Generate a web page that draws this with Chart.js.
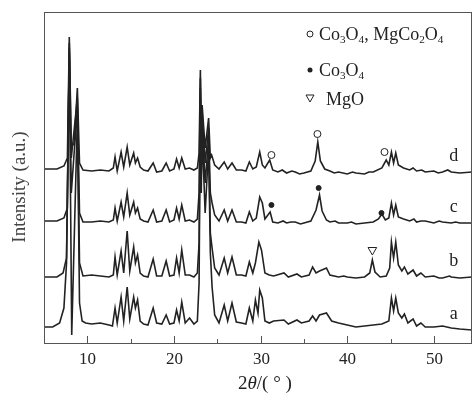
<!DOCTYPE html>
<html>
<head>
<meta charset="utf-8">
<script src="https://cdn.jsdelivr.net/npm/chart.js@4.4.0/dist/chart.umd.min.js"></script>
<style>
  body { margin: 0; background: #fff; }
  #wrap { width: 473px; height: 393px; position: relative; }
</style>
</head>
<body>
<div id="wrap"><canvas id="myChart"></canvas></div>
<script>
// [2theta, intensity] (intensity in arbitrary units, stacked)
const traceD = [[4.9,174],[6.5,174],[7.3,177],[7.7,185],[7.92,306],[8.15,196],[8.5,200],[8.85,255],[9.1,180],[9.5,173],[10.5,172],[11.5,173],[12.5,172],[13.0,175],[13.2,186],[13.45,172],[13.9,191],[14.2,176],[14.6,196],[14.9,178],[15.35,190],[15.55,180],[15.8,185],[16.1,176],[16.5,173],[17.0,172],[17.6,180],[18.0,171],[18.6,172],[19.1,180],[19.5,172],[20.0,174],[20.3,184],[20.6,175],[20.9,185],[21.3,174],[21.8,175],[22.3,173],[22.7,175],[22.9,190],[23.05,273],[23.15,200],[23.25,238],[23.6,195],[24.0,225],[24.2,185],[24.35,188],[24.7,178],[25.2,174],[25.8,181],[26.2,174],[26.7,180],[27.2,173],[27.8,173],[28.3,172],[28.7,181],[29.1,174],[29.5,176],[29.9,191],[30.2,178],[30.5,175],[31.05,183],[31.4,173],[32,171],[32.5,173],[33,170],[33.6,172],[34,171],[34.5,169],[35,170],[35.8,172],[36.3,182],[36.6,201],[36.9,182],[37.4,174],[38,172],[38.5,170],[39,171],[40,169],[40.6,171],[41,170],[42,169],[42.5,171],[43,171],[44,175],[44.5,183],[44.8,178],[45.1,191],[45.35,180],[45.6,190],[45.9,178],[46.5,175],[47.2,173],[47.6,175],[48,172],[48.6,173],[49,171],[50,172],[50.5,170],[51,171],[51.6,173],[52,171],[53,170],[54.4,171]];

const traceC = [[4.9,122],[6.5,122],[7.3,125],[7.7,135],[7.92,300],[8.15,185],[8.85,245],[9.1,130],[9.5,121],[10.5,121],[11.5,122],[12.5,121],[13.0,123],[13.2,135],[13.45,122],[13.9,141],[14.2,126],[14.6,150],[14.9,128],[15.35,141],[15.55,130],[15.8,135],[16.1,124],[16.5,122],[17.0,121],[17.6,133],[18.0,121],[18.6,122],[19.1,133],[19.5,121],[20.0,123],[20.3,135],[20.6,124],[20.9,138],[21.3,122],[21.8,123],[22.3,121],[22.7,124],[22.9,150],[23.05,265],[23.15,190],[23.25,230],[23.6,180],[24.0,215],[24.2,150],[24.4,140],[24.7,128],[25.2,122],[25.8,133],[26.2,122],[26.7,133],[27.2,121],[27.8,121],[28.3,120],[28.7,131],[29.1,122],[29.5,125],[29.9,146],[30.2,140],[30.5,124],[31.1,131],[31.4,121],[32,120],[32.6,122],[33,120],[33.5,121],[34,121],[34.6,119],[35,120],[35.8,122],[36.4,133],[36.8,148],[37.1,132],[37.6,123],[38,121],[38.6,122],[39,120],[40,120],[40.5,121],[41,119],[42,120],[43,121],[43.6,124],[44.0,129],[44.4,123],[44.8,125],[45.1,140],[45.35,128],[45.6,138],[45.9,126],[46.5,124],[47.2,122],[47.7,124],[48,121],[48.5,122],[49,122],[50,120],[50.6,122],[51,121],[52,120],[52.5,121],[53,120],[54.4,120]];

const traceB = [[4.9,66],[6.5,66],[7.2,70],[7.6,85],[7.92,295],[8.15,150],[8.85,235],[9.1,80],[9.5,67],[10.5,68],[11.5,67],[12.5,66],[13.0,68],[13.2,86],[13.45,68],[13.9,92],[14.2,70],[14.6,112],[14.9,72],[15.35,96],[15.55,80],[15.8,88],[16.1,70],[16.5,67],[17.0,66],[17.6,84],[18.0,67],[18.6,67],[19.1,82],[19.5,67],[20.0,68],[20.3,85],[20.6,70],[20.9,93],[21.3,68],[21.8,68],[22.3,66],[22.7,70],[22.9,100],[23.05,255],[23.15,170],[23.25,220],[23.6,160],[24.0,205],[24.2,110],[24.4,95],[24.7,75],[25.2,68],[25.8,85],[26.2,70],[26.7,86],[27.2,68],[27.8,68],[28.3,67],[28.7,81],[29.1,70],[29.4,80],[29.8,101],[30.1,93],[30.5,70],[31.0,68],[31.5,67],[32.7,70],[33.2,66],[34.2,69],[34.7,66],[35.6,68],[36.0,76],[36.4,70],[36.8,72],[37.6,75],[38,68],[39,66],[39.6,67],[40,66],[41,65],[42,66],[42.6,70],[42.9,83],[43.2,71],[43.8,66],[44.5,67],[44.9,75],[45.1,101],[45.35,85],[45.6,101],[45.9,78],[46.3,72],[46.6,76],[47.0,69],[47.6,73],[48.0,67],[48.5,70],[49,66],[50,67],[50.6,65],[51,65],[51.8,67],[52,66],[53,65],[54.4,66]];

const traceA = [[4.9,16],[6.0,16],[6.8,20],[7.3,35],[7.6,80],[7.92,290],[8.2,8],[8.85,225],[9.1,40],[9.4,22],[9.8,20],[10.5,19],[11.5,20],[12.5,18],[12.9,17],[13.2,35],[13.45,20],[13.9,46],[14.2,22],[14.6,56],[14.9,24],[15.35,46],[15.55,35],[15.8,43],[16.1,22],[16.5,19],[17.0,18],[17.6,35],[18.0,20],[18.6,19],[19.1,28],[19.5,19],[20.0,20],[20.3,33],[20.6,22],[20.9,41],[21.3,20],[21.8,25],[22.3,19],[22.7,22],[22.9,60],[23.05,245],[23.15,150],[23.25,210],[23.6,130],[24.0,195],[24.2,90],[24.4,56],[24.7,28],[25.2,20],[25.8,38],[26.2,22],[26.7,40],[27.2,21],[27.8,20],[28.3,19],[28.7,35],[29.1,22],[29.4,43],[29.7,30],[29.9,53],[30.2,45],[30.5,22],[31.0,20],[31.5,22],[32.7,23],[33.2,19],[34.2,23],[34.7,20],[35.6,22],[36.0,27],[36.4,22],[36.8,28],[37.6,30],[38.2,22],[39,20],[40,18],[41,16],[42,17],[43,18],[44,19],[44.8,22],[45.1,45],[45.35,32],[45.6,45],[45.9,30],[46.3,25],[46.6,29],[47.0,20],[47.6,24],[48.0,17],[48.5,20],[49,16],[50,16],[51,17],[52,15],[53,14],[54.4,13]];

// phase markers
const spinelMarks = [[31.25,188],[36.56,209],[44.3,191]];   // open circle
const cobaltMarks = [[31.25,138],[36.7,155],[43.95,130]];  // filled circle
const mgoMarks = [[42.9,93]];                              // open triangle

const traceNames = ['a', 'b', 'c', 'd'];
const xTickValues = [5, 10, 15, 20, 25, 30, 35, 40, 45, 50];
const xTickLabels = ['', '10', '', '20', '', '30', '', '40', '', '50'];
const xMin = 5, xMax = 54.4, yMin = 0, yMax = 331;

const serif = "'Liberation Serif', 'Times New Roman', serif";
const ink = '#222';

function toPoints(arr) {
  return arr.map(p => ({ x: p[0], y: p[1] }));
}

// draw a formula like Co3O4 with digits lowered
function drawFormula(ctx, parts, x, y, size) {
  parts.forEach(([txt, sub]) => {
    ctx.font = (sub ? size * 0.62 : size) + 'px ' + serif;
    ctx.fillText(txt, x, sub ? y + size * 0.18 : y);
    x += ctx.measureText(txt).width;
  });
  return x;
}

const decorPlugin = {
  id: 'decor',
  afterDatasetsDraw(chart) {
    const { ctx, chartArea: ca, scales } = chart;
    const xs = scales.x, ys = scales.y;
    ctx.save();
    // frame
    ctx.strokeStyle = '#555';
    ctx.lineWidth = 1;
    ctx.strokeRect(ca.left + 0.5, ca.top + 0.5, ca.right - ca.left - 1, ca.bottom - ca.top);
    // inward ticks + labels
    ctx.fillStyle = ink;
    ctx.font = '17px ' + serif;
    ctx.textAlign = 'center';
    ctx.textBaseline = 'middle';
    xTickValues.forEach((v, i) => {
      const px = Math.round(xs.getPixelForValue(v)) + 0.5;
      const len = v % 10 === 0 ? 7 : 4;
      ctx.beginPath();
      ctx.moveTo(px, ca.bottom);
      ctx.lineTo(px, ca.bottom - len);
      ctx.stroke();
      if (xTickLabels[i]) ctx.fillText(xTickLabels[i], px, ca.bottom + 17);
    });
    // trace labels
    ctx.font = '18px ' + serif;
    [traceA, traceB, traceC, traceD].forEach((tr, i) => {
      const last = tr[tr.length - 1][1];
      ctx.fillText(traceNames[i], xs.getPixelForValue(52.3), ys.getPixelForValue(last + 16));
    });
    // y title
    ctx.save();
    ctx.translate(20, 187);
    ctx.rotate(-Math.PI / 2);
    ctx.fillStyle = '#444';
    ctx.font = '19px ' + serif;
    ctx.fillText('Intensity (a.u.)', 0, 0);
    ctx.restore();
    // legend
    ctx.textAlign = 'left';
    ctx.textBaseline = 'alphabetic';
    const lx = 310, tx = 319, size = 18;
    ctx.strokeStyle = ink;
    ctx.lineWidth = 1;
    ctx.beginPath(); ctx.arc(lx, 34, 3, 0, Math.PI * 2); ctx.stroke();
    drawFormula(ctx, [['Co', 0], ['3', 1], ['O', 0], ['4', 1], [', MgCo', 0], ['2', 1], ['O', 0], ['4', 1]], tx, 40, size);
    ctx.beginPath(); ctx.arc(lx, 70, 2.5, 0, Math.PI * 2); ctx.fill();
    drawFormula(ctx, [['Co', 0], ['3', 1], ['O', 0], ['4', 1]], tx, 76, size);
    ctx.beginPath();
    ctx.moveTo(lx - 4, 95); ctx.lineTo(lx + 4, 95); ctx.lineTo(lx, 102); ctx.closePath();
    ctx.stroke();
    ctx.font = size + 'px ' + serif;
    ctx.fillText('MgO', 326, 105);
    // x title with italic theta
    ctx.font = '19px ' + serif;
    let x = 238;
    const y = 389;
    ctx.fillText('2', x, y); x += ctx.measureText('2').width;
    ctx.font = 'italic 19px ' + serif;
    ctx.fillText('\u03b8', x, y); x += ctx.measureText('\u03b8').width;
    ctx.font = '19px ' + serif;
    ctx.fillText('/( \u00b0 )', x, y);
    ctx.restore();
  }
};

function traceSet(arr) {
  return {
    type: 'line',
    data: toPoints(arr),
    borderColor: ink,
    borderWidth: 1.6,
    pointRadius: 0,
    pointHoverRadius: 0,
    tension: 0,
    fill: false
  };
}

function markSet(arr, style, fillColor, radius, rotation) {
  return {
    type: 'scatter',
    data: toPoints(arr),
    showLine: false,
    pointStyle: style,
    pointRadius: radius,
    pointRotation: rotation || 0,
    pointBackgroundColor: fillColor,
    pointBorderColor: ink,
    pointBorderWidth: 1
  };
}

const ctx = document.getElementById('myChart');
new Chart(ctx, {
  type: 'line',
  data: {
    datasets: [
      traceSet(traceA), traceSet(traceB), traceSet(traceC), traceSet(traceD),
      markSet(spinelMarks, 'circle', '#fff', 3.5),
      markSet(cobaltMarks, 'circle', ink, 2.5),
      markSet(mgoMarks, 'triangle', '#fff', 5, 180)
    ]
  },
  options: {
    responsive: true,
    maintainAspectRatio: false,
    animation: false,
    layout: { autoPadding: false, padding: { top: 12, right: 1, left: 0, bottom: 0 } },
    plugins: {
      legend: { display: false },
      tooltip: { enabled: false }
    },
    scales: {
      x: {
        type: 'linear',
        min: xMin,
        max: xMax,
        afterFit: (scale) => { scale.height = 50; },
        grid: { display: false, drawTicks: false },
        border: { display: false },
        ticks: { display: false }
      },
      y: {
        min: yMin,
        max: yMax,
        afterFit: (scale) => { scale.width = 44; },
        grid: { display: false, drawTicks: false },
        border: { display: false },
        ticks: { display: false }
      }
    }
  },
  plugins: [decorPlugin]
});
</script>
</body>
</html>
